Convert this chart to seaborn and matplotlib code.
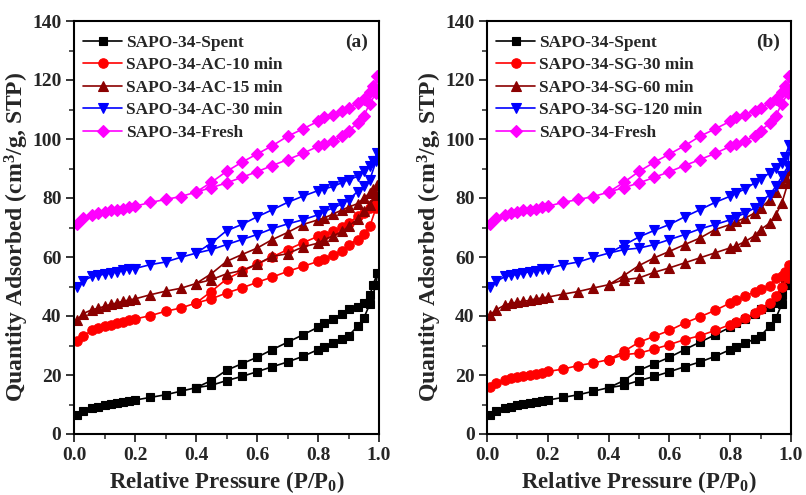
import numpy as np
import pandas as pd
import matplotlib
matplotlib.use("Agg")
import matplotlib.pyplot as plt
from matplotlib.ticker import MultipleLocator
import seaborn as sns

# ---------------- data ----------------
p_ads = [0.01, 0.03, 0.06, 0.08, 0.10, 0.12, 0.14, 0.16, 0.18, 0.20, 0.25, 0.30, 0.35, 0.40, 0.45,
         0.50, 0.55, 0.60, 0.65, 0.70, 0.75, 0.80, 0.82, 0.85, 0.88, 0.90, 0.93, 0.95, 0.97, 0.99]
p_des = [0.995, 0.98, 0.97, 0.95, 0.93, 0.90, 0.88, 0.85, 0.82, 0.80, 0.75, 0.70, 0.65, 0.60,
         0.55, 0.50, 0.45, 0.40]

spent_ads = [6.5, 7.8, 8.9, 9.3, 9.7, 10.2, 10.5, 10.8, 11.2, 11.5, 12.4, 13.3, 14.5, 15.7, 16.5,
             18.1, 19.5, 21.1, 22.8, 24.4, 26.3, 28.6, 29.4, 30.8, 32.2, 33.3, 36.5, 39.3, 44.0, 50.5]
spent_des = [54.5, 50.5, 47.0, 44.5, 43.2, 42.4, 40.7, 39.1, 37.6, 36.2, 33.6, 31.1, 28.6, 26.0,
             23.8, 21.6, 18.1, 15.7]

fresh_ads = [71.3, 73.2, 74.3, 74.9, 75.4, 75.8, 76.0, 76.4, 76.8, 77.2, 78.5, 79.5, 80.5, 82.0, 83.5,
             85.1, 87.0, 88.9, 91.0, 93.0, 95.1, 97.5, 98.3, 99.4, 101.1, 102.8, 105.4, 107.9, 112.0, 115.5]
fresh_des = [121.4, 118.0, 116.0, 113.5, 112.2, 110.6, 109.6, 108.2, 107.3, 106.0, 103.4, 100.9,
             97.7, 94.9, 92.1, 89.0, 85.3, 82.0]

ac10_ads = [31.4, 33.3, 35.1, 35.8, 36.5, 37.1, 37.6, 38.1, 38.5, 39.0, 40.1, 41.6, 42.7, 44.4, 45.8,
            47.8, 49.5, 51.4, 53.2, 55.1, 56.8, 58.5, 59.3, 60.8, 62.2, 64.2, 65.9, 67.9, 70.4, 76.6]
ac10_des = [80.0, 78.0, 76.5, 74.8, 73.8, 71.5, 70.2, 68.7, 67.6, 67.0, 64.8, 62.5, 60.0, 57.5,
            55.1, 52.5, 48.3, 44.4]

ac15_ads = [38.7, 40.8, 42.2, 42.6, 43.3, 43.9, 44.4, 45.0, 45.4, 45.8, 47.2, 48.4, 49.4, 51.0, 52.3,
            54.3, 55.4, 57.6, 60.2, 61.1, 63.4, 64.7, 65.9, 67.2, 68.7, 70.4, 72.9, 75.5, 77.7, 81.1]
ac15_des = [84.5, 83.0, 81.7, 80.0, 78.1, 76.9, 76.0, 74.6, 73.2, 72.6, 71.0, 68.3, 65.9, 63.0,
            60.8, 58.5, 54.3, 51.0]

ac30_ads = [50.0, 52.0, 53.4, 53.8, 54.2, 54.6, 55.0, 55.5, 55.8, 56.1, 57.4, 58.3, 59.9, 61.3, 62.5,
            64.2, 65.9, 67.6, 69.6, 71.2, 72.6, 74.3, 75.5, 76.6, 78.1, 79.4, 82.2, 83.9, 86.2, 92.4]
ac30_des = [95.2, 92.5, 90.7, 89.0, 87.3, 86.2, 85.3, 83.9, 83.1, 82.5, 80.6, 78.5, 76.0, 73.6,
            71.0, 68.9, 64.7, 61.3]

sg30_ads = [16.1, 17.3, 18.4, 18.9, 19.3, 19.8, 20.1, 20.4, 20.7, 21.2, 22.0, 23.2, 24.1, 25.2, 26.9,
            27.4, 28.8, 30.3, 32.0, 33.3, 35.1, 37.1, 37.8, 39.3, 41.0, 42.4, 44.4, 46.9, 50.0, 52.9]
sg30_des = [57.4, 55.0, 53.4, 52.9, 50.3, 49.2, 48.0, 46.9, 45.3, 44.4, 41.9, 39.7, 37.6, 35.1,
            33.1, 31.1, 28.0, 25.2]

sg60_ads = [40.4, 42.1, 43.8, 44.3, 44.7, 45.0, 45.3, 45.8, 46.1, 46.4, 47.4, 48.3, 49.5, 50.6, 52.3,
            52.9, 54.8, 56.3, 58.0, 59.7, 61.4, 63.1, 63.8, 65.3, 67.2, 69.3, 71.5, 74.3, 78.3, 85.1]
sg60_des = [89.6, 87.0, 85.1, 82.2, 79.4, 76.6, 74.9, 73.2, 72.1, 71.0, 69.3, 66.4, 64.2, 61.9,
            59.7, 57.1, 53.7, 50.6]

sg120_ads = [50.0, 51.7, 53.4, 53.8, 54.2, 54.6, 55.0, 55.4, 55.8, 56.1, 57.4, 58.3, 59.9, 61.3, 62.5,
             63.0, 64.2, 65.9, 67.6, 69.5, 71.0, 72.6, 73.6, 74.9, 76.6, 78.8, 81.1, 83.9, 87.3, 90.7]
sg120_des = [98.1, 94.0, 91.9, 90.2, 88.5, 86.4, 85.1, 83.1, 81.7, 80.6, 78.5, 76.0, 73.6, 71.0,
             69.0, 66.8, 64.0, 61.3]

labels_a = ["SAPO-34-Spent", "SAPO-34-AC-10 min", "SAPO-34-AC-15 min", "SAPO-34-AC-30 min", "SAPO-34-Fresh"]
labels_b = ["SAPO-34-Spent", "SAPO-34-SG-30 min", "SAPO-34-SG-60 min", "SAPO-34-SG-120 min", "SAPO-34-Fresh"]
series_a = [(spent_ads, spent_des), (ac10_ads, ac10_des), (ac15_ads, ac15_des), (ac30_ads, ac30_des), (fresh_ads, fresh_des)]
series_b = [(spent_ads, spent_des), (sg30_ads, sg30_des), (sg60_ads, sg60_des), (sg120_ads, sg120_des), (fresh_ads, fresh_des)]

colors = ["#000000", "#FF0000", "#8B0000", "#0000FF", "#FF00FF"]
markers = ["s", "o", "^", "v", "D"]
msizes = [6.3, 6.8, 6.8, 6.8, 5.8]

# ---------------- style ----------------
sns.set_style("ticks")
plt.rcParams["font.family"] = ["Liberation Serif", "DejaVu Serif"]
plt.rcParams["font.weight"] = "bold"
plt.rcParams["axes.labelweight"] = "bold"
plt.rcParams["mathtext.fontset"] = "custom"
plt.rcParams["mathtext.rm"] = "Liberation Serif:bold"
plt.rcParams["mathtext.it"] = "Liberation Serif:bold"
plt.rcParams["mathtext.bf"] = "Liberation Serif:bold"

fig = plt.figure(figsize=(8.06, 4.95), dpi=100)
fig.patch.set_facecolor("white")
ax_a = fig.add_axes([74 / 806, 61 / 495, 305 / 806, 413 / 495])
ax_b = fig.add_axes([487 / 806, 61 / 495, 304 / 806, 413 / 495])


def draw(ax, series, labels, tag):
    for (ads, des), lab, c, m, ms in zip(series, labels, colors, markers, msizes):
        df = pd.DataFrame({"P": p_ads + p_des, "Q": ads + des})
        sns.lineplot(data=df, x="P", y="Q", sort=False, estimator=None, ax=ax,
                     color=c, marker=m, markersize=ms, markeredgecolor=c,
                     markeredgewidth=0.8, linewidth=1.2, label=lab)
    ax.set_xlim(0, 1.0)
    ax.set_ylim(0, 140)
    ax.xaxis.set_minor_locator(MultipleLocator(0.1))
    ax.yaxis.set_major_locator(MultipleLocator(20))
    ax.yaxis.set_minor_locator(MultipleLocator(10))
    ax.set_xticks(np.arange(0, 1.01, 0.2))
    ax.set_xticklabels([f"{v:.1f}" for v in np.arange(0, 1.01, 0.2)])
    ax.tick_params(which="major", direction="out", length=6, width=1.3, labelsize=14, pad=3)
    ax.tick_params(which="minor", direction="out", length=3.5, width=1.1)
    ax.tick_params(top=False, right=False)
    for lab in ax.get_xticklabels() + ax.get_yticklabels():
        lab.set_fontweight("bold")
    for s in ax.spines.values():
        s.set_visible(True)
        s.set_linewidth(1.5)
        s.set_color("black")
    ax.set_xlabel(r"Relative Pressure (P/P$_0$)", fontsize=16.5, fontweight="bold", labelpad=4)
    ax.set_ylabel("Quantity Adsorbed (cm$^3$/g, STP)", fontsize=17, fontweight="bold")
    ax.yaxis.set_label_coords(-0.142, 0.478)
    ax.grid(False)
    ax.legend(loc="upper left", bbox_to_anchor=(0.0295, 0.967), frameon=False,
              borderaxespad=0, borderpad=0, handlelength=2.27, handletextpad=0.23,
              labelspacing=0.38, prop={"family": "Liberation Serif", "weight": "bold", "size": 12.4})
    ax.text(0.925, 0.948, tag, transform=ax.transAxes, ha="center", va="center",
            fontsize=14, fontweight="bold")


draw(ax_a, series_a, labels_a, "(a)")
draw(ax_b, series_b, labels_b, "(b)")

fig.savefig("out.png", dpi=100, facecolor="white")
